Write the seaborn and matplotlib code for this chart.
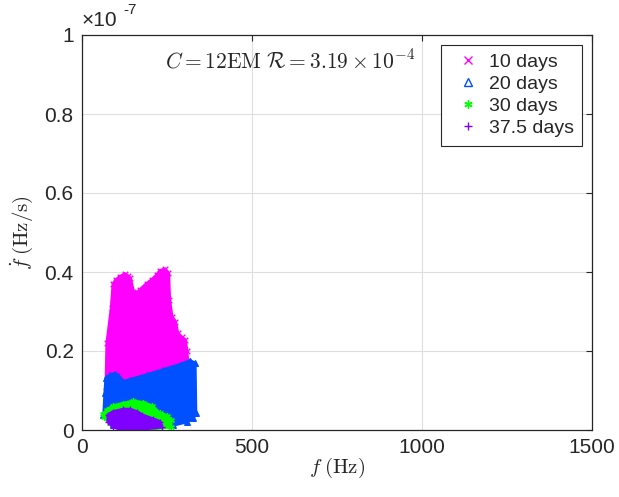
import matplotlib
matplotlib.use("Agg")
import matplotlib.pyplot as plt
import seaborn as sns
from matplotlib.lines import Line2D

# outlines of each search region, f in Hz and fdot in units of 1e-7 Hz/s
f_10 = [71, 71, 74, 87, 92, 100, 112, 126, 135, 141, 151, 161, 171, 190, 205,
        220, 229, 244, 254, 257, 264, 274, 281, 293, 303, 308, 310, 310, 71]
fd_10 = [0.04, 0.10, 0.22, 0.31, 0.37, 0.38, 0.388, 0.395, 0.39, 0.385, 0.35, 0.347, 0.355, 0.37, 0.38,
         0.392, 0.403, 0.407, 0.397, 0.329, 0.287, 0.274, 0.245, 0.235, 0.228, 0.20, 0.175, 0.10, 0.04]

f_20 = [65, 68, 71, 82, 97, 107, 122, 141, 190, 239, 288, 318, 332, 334, 327, 308, 269, 150, 92, 63]
fd_20 = [0.042, 0.093, 0.131, 0.139, 0.142, 0.137, 0.122, 0.127, 0.139, 0.152, 0.165, 0.175, 0.169,
         0.042, 0.030, 0.021, 0.013, 0.010, 0.013, 0.038]

f_30 = [63, 73, 92, 122, 151, 180, 205, 229, 251, 261, 261, 210, 82, 65]
fd_30 = [0.040, 0.050, 0.061, 0.067, 0.073, 0.069, 0.061, 0.042, 0.036, 0.025, 0.008, 0.004, 0.017, 0.034]

f_375 = [77, 92, 122, 141, 161, 176, 210, 229, 234, 190, 161, 122, 92, 77]
fd_375 = [0.038, 0.046, 0.052, 0.052, 0.046, 0.038, 0.027, 0.021, 0.008, 0.004, 0.0, 0.0, 0.008, 0.021]

labels = ['10 days', '20 days', '30 days', '37.5 days']
colors = ['#FF00FF', '#0050FF', '#00FF00', '#7F00FF']
markers = ['x', '^', (6, 2, 0), '+']

x_ticks = [0, 500, 1000, 1500]
y_ticks = [0, 0.2, 0.4, 0.6, 0.8, 1.0]
y_ticklabels = ['0', '0.2', '0.4', '0.6', '0.8', '1']

sns.set_style('white')
plt.rcParams['font.family'] = ['Liberation Sans', 'DejaVu Sans']
plt.rcParams['mathtext.fontset'] = 'cm'

fig = plt.figure(figsize=(6.19, 4.97), dpi=100)
ax = fig.add_axes([82 / 619, 1 - 430 / 497, 510 / 619, 395 / 497])

regions = [(f_10, fd_10), (f_20, fd_20), (f_30, fd_30), (f_375, fd_375)]
for i, ((f, fd), c, m) in enumerate(zip(regions, colors, markers)):
    z = 2 + 2 * i
    ax.fill(f, fd, color=c, lw=2.5, zorder=z)
    sns.scatterplot(x=f, y=fd, color=c, edgecolor=c, marker=m, s=16, linewidth=1,
                    ax=ax, zorder=z + 1)

ax.set_xlim(0, 1500)
ax.set_ylim(0, 1)
ax.set_xticks(x_ticks)
ax.set_yticks(y_ticks)
ax.set_yticklabels(y_ticklabels)
ax.tick_params(direction='in', length=4, width=0.8, labelsize=15, colors='#262626',
               top=True, right=True, pad=6)
ax.grid(True, color='#dedede', lw=0.8)
ax.set_axisbelow(True)
for s in ax.spines.values():
    s.set_color('#262626')
    s.set_linewidth(0.9)
    s.set_zorder(20)

ax.set_xlabel(r'$f\;(\mathrm{Hz})$', fontsize=15, color='#262626')
ax.set_ylabel(r'$\dot{f}\;(\mathrm{Hz/s})$', fontsize=15, color='#262626')
ax.xaxis.set_label_coords(0.5, -0.065)
ax.yaxis.set_label_coords(-0.092, 0.5)

fig.text(82 / 619, 1 - 21 / 497, '\u00d710', fontsize=15, color='#262626', va='center')
fig.text(123 / 619, 1 - 10 / 497, '-7', fontsize=11, color='#262626', va='center')

ax.text(165 / 619, 1 - 61 / 497, r'$C=12\mathrm{EM}\ \mathcal{R}=3.19\times10^{-4}$',
        transform=fig.transFigure, fontsize=15.5, va='center', ha='left')

handles = []
for c, m, lab in zip(colors, markers, labels):
    fc = 'none' if m == '^' else c
    handles.append(Line2D([], [], ls='none', marker=m, color=c, mfc=fc, mec=c,
                          ms=6, mew=1, label=lab))
leg = ax.legend(handles=handles, loc='upper right', fontsize=14, frameon=True, fancybox=False,
                framealpha=1, edgecolor='#262626', borderpad=0.45, labelspacing=0.22,
                handlelength=1.85, handletextpad=0.15, borderaxespad=0.5)
leg.get_frame().set_linewidth(0.8)
leg.set_zorder(30)

plt.savefig('out.png', dpi=100)
